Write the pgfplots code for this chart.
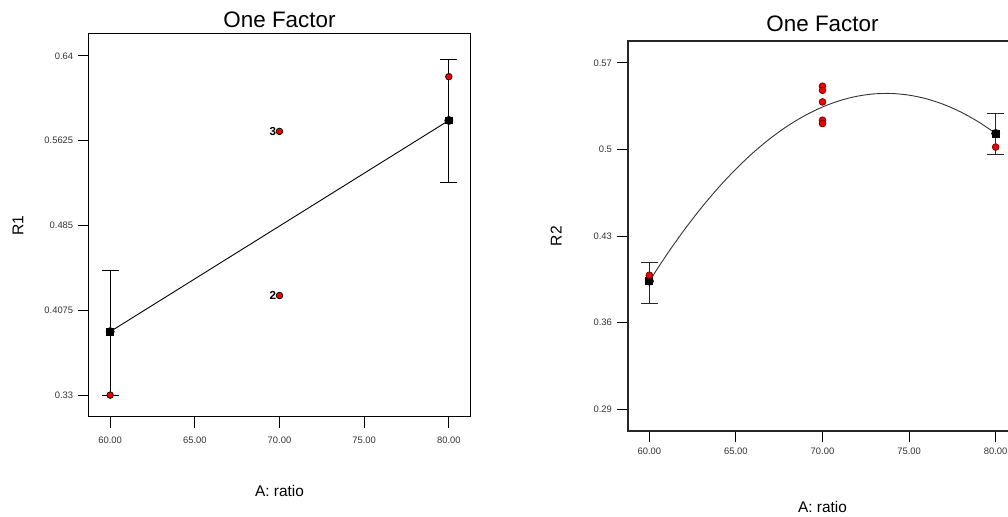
\documentclass[border=0pt]{standalone}
\usepackage{pgfplots}
\pgfplotsset{compat=1.18}
\usepackage{fontspec}
\setmainfont{Liberation Sans}
\definecolor{ticktext}{HTML}{333333}
\definecolor{ptred}{HTML}{F00000}
\definecolor{ptedge}{HTML}{700000}
\begin{document}
\begin{tikzpicture}
\pgfplotsset{
  oneax/.style={
    scale only axis,
    anchor=north west,
    axis line style={black, line width=0.5pt},
    tick align=outside,
    major tick length=5.3pt,
    tick style={black, line width=0.5pt},
    xtick pos=bottom, ytick pos=left,
    /pgf/number format/assume math mode=true,
    tick label style={font=\fontsize{4.7}{5}\selectfont, text=ticktext},
    yticklabel style={inner sep=0pt, xshift=-2.4pt},
    xmin=58.75, xmax=81.25,
    xtick={60,65,70,75,80},
    xticklabels={60.00,65.00,70.00,75.00,80.00},
    title style={font=\fontsize{11.2}{13}\selectfont, at={(axis description cs:0.5,1)}, anchor=base},
    xlabel style={font=\fontsize{7.7}{9}\selectfont, anchor=base},
    ylabel style={font=\fontsize{7.8}{9}\selectfont, anchor=base},
    xlabel={A: ratio},
    title={One Factor},
    clip=false,
  },
  ebar/.style={only marks, mark=none,
    error bars/.cd, y dir=both, y explicit, error mark=-,
    error bar style={#1, line width=0.55pt},
    error mark options={rotate=90, #1, line width=0.55pt, mark size=4.25pt}},
}
% ---------------- left chart ----------------
\begin{axis}[oneax,
  at={(44.5pt,-17pt)},
  width=190.5pt, height=191.5pt,
  ymin=0.31, ymax=0.66,
  ytick={0.33,0.4075,0.485,0.5625,0.64},
  yticklabels={0.33,0.4075,0.485,0.5625,0.64},
  ylabel={R1},
  xticklabel style={inner sep=0pt, yshift=-4.6pt},
  title style={yshift=-2.65pt},
  xlabel style={at={(axis description cs:0.5,-0.2063)}},
  ylabel style={at={(axis description cs:-0.1724,0.5)}},
]
% error bars
\addplot[ebar=black]
  coordinates {(60,0.388) += (0,0.056) -= (0,0.058)
               (80,0.581) += (0,0.056) -= (0,0.057)};
% fitted line
\addplot[black, line width=0.45pt, mark=none] coordinates {(60,0.388) (80,0.581)};
% predicted means
\addplot[only marks, mark=square*, mark size=1.7pt, mark options={fill=black, draw=black}]
  coordinates {(60,0.388) (80,0.581)};
% observed points
\addplot[only marks, mark=*, mark size=1.65pt, mark options={fill=ptred, draw=black, line width=0.35pt}]
  coordinates {(60,0.33) (70,0.571) (70,0.421) (80,0.621)};
\node[anchor=east, inner sep=0pt, xshift=-1.5pt, font=\fontsize{5.8}{6}\selectfont\bfseries] at (axis cs:70,0.571) {3};
\node[anchor=east, inner sep=0pt, xshift=-1.5pt, font=\fontsize{5.8}{6}\selectfont\bfseries] at (axis cs:70,0.421) {2};
\end{axis}
% ---------------- right chart ----------------
\begin{axis}[oneax,
  at={(313.85pt,-20.65pt)},
  width=194.8pt, height=194.85pt,
  ymin=0.2725, ymax=0.5875,
  ytick={0.29,0.36,0.43,0.5,0.57},
  yticklabels={0.29,0.36,0.43,0.5,0.57},
  ylabel={R2},
  xticklabel style={inner sep=0pt, yshift=-3.2pt},
  axis line style={black!85, line width=0.8pt},
  title style={yshift=-1.2pt},
  xlabel style={at={(axis description cs:0.5,-0.2096)}},
  ylabel style={at={(axis description cs:-0.1694,0.5)}},
]
\addplot[ebar=black!85]
  coordinates {(60,0.3936) += (0,0.0151) -= (0,0.0178)
               (80,0.513) += (0,0.0158) -= (0,0.017)};
\addplot[black!80, line width=0.45pt, mark=none, smooth] coordinates {
  (60,0.3936) (61,0.41498) (62,0.43474) (63,0.45287) (64,0.46938)
  (65,0.48427) (66,0.49754) (67,0.50919) (68,0.51922) (69,0.52762)
  (70,0.5344) (71,0.53956) (72,0.5431) (73,0.54501) (74,0.5453)
  (75,0.54397) (76,0.54102) (77,0.53645) (78,0.53026) (79,0.52244)
  (80,0.513)};
\addplot[only marks, mark=square*, mark size=1.75pt, mark options={fill=black, draw=black}]
  coordinates {(60,0.3936) (80,0.513)};
\addplot[only marks, mark=*, mark size=1.7pt, mark options={fill=ptred, draw=ptedge, line width=0.35pt}]
  coordinates {(60,0.3984) (70,0.5512) (70,0.5479) (70,0.5385) (70,0.5237) (70,0.521) (80,0.502)};
\end{axis}
\pgfresetboundingbox
\path (0,0) rectangle (504pt,-258.5pt);
\end{tikzpicture}
\end{document}
